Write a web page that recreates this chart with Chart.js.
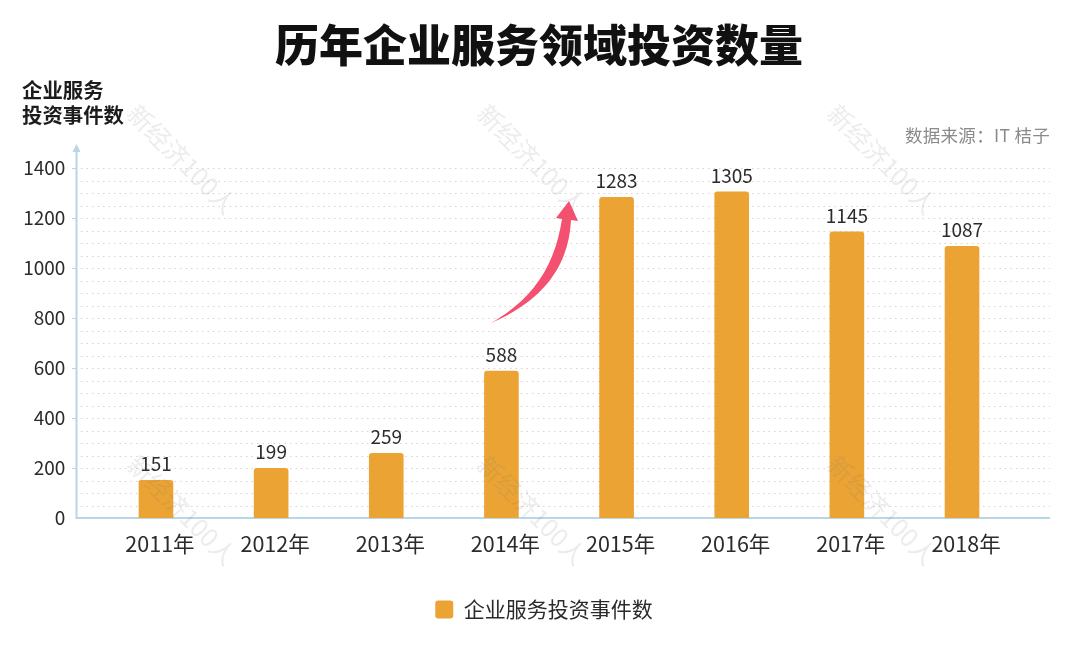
<!DOCTYPE html>
<html lang="zh">
<head>
<meta charset="utf-8">
<title>历年企业服务领域投资数量</title>
<script src="https://cdn.jsdelivr.net/npm/chart.js@4"></script>
<style>
  html, body { margin: 0; padding: 0; background: #fff; }
  #wrap { position: relative; width: 1080px; height: 660px; overflow: hidden; font-family: "Noto Sans CJK SC", "Noto Sans", sans-serif; }
  #wrap canvas { position: absolute; left: 0; top: 0; }
  .label { position: absolute; white-space: nowrap; }
  #title { left: 0; width: 1078px; top: 12px; text-align: center; font-size: 44px; line-height: 62px; font-weight: 900; color: #111; }
  #yTitle { left: 22px; top: 77px; font-size: 20.4px; line-height: 25px; font-weight: 700; color: #1c1c1c; }
  #source { right: 30px; top: 124px; font-size: 17.5px; line-height: 22px; letter-spacing: 0.3px; color: #8a8a8a; }
  .mark { position: absolute; font-size: 25px; line-height: 30px; color: rgba(120, 120, 120, 0.14); transform: translate(-50%, -50%) rotate(45deg); white-space: nowrap; pointer-events: none; }
  #arrow { position: absolute; left: 0; top: 0; pointer-events: none; }
</style>
</head>
<body>
<div id="wrap">
  <canvas id="chart" width="1080" height="660"></canvas>
  <svg id="arrow" width="1080" height="660">
    <path d="M491,323 C522,305 553,278 562,219 L556,218 L569,201 L578,221 L571,220 C569,264 545,300 491,323 Z" fill="#f4506f"/>
  </svg>
  <div class="label" id="title">历年企业服务领域投资数量</div>
  <div class="label" id="yTitle">企业服务<br>投资事件数</div>
  <div class="label" id="source">数据来源：IT 桔子</div>
  <div class="mark" style="left:183px;top:158px">新经济100人</div>
  <div class="mark" style="left:533px;top:158px">新经济100人</div>
  <div class="mark" style="left:883px;top:158px">新经济100人</div>
  <div class="mark" style="left:183px;top:509px">新经济100人</div>
  <div class="mark" style="left:533px;top:509px">新经济100人</div>
  <div class="mark" style="left:883px;top:509px">新经济100人</div>
</div>
<script>
const years = ['2011年', '2012年', '2013年', '2014年', '2015年', '2016年', '2017年', '2018年'];
const deals = [151, 199, 259, 588, 1283, 1305, 1145, 1087];
const seriesName = '企业服务投资事件数';
const yMax = 1400;
const gridStep = 50;
const labelStep = 200;

const fontFamily = '"Noto Sans CJK SC", "Noto Sans", sans-serif';
const axisColor = '#b7d6e6';

/* Dotted grid, long axis lines and the value labels */
const decorations = {
  id: 'decorations',
  beforeDatasetsDraw(chart) {
    const { ctx, scales: { y } } = chart;
    const axisX = 76.5, rightX = 1050, baseY = y.getPixelForValue(0);
    ctx.save();
    ctx.strokeStyle = '#e0cfcf';
    ctx.lineWidth = 1;
    ctx.setLineDash([1.5, 4]);
    y.ticks.forEach((t) => {
      if (t.value === 0) return;
      const py = Math.round(y.getPixelForValue(t.value)) + 0.5;
      ctx.beginPath();
      ctx.moveTo(81, py);
      ctx.lineTo(rightX, py);
      ctx.stroke();
      // short tick beside the labelled values
      if (t.value % labelStep === 0) {
        ctx.save();
        ctx.setLineDash([]);
        ctx.strokeStyle = axisColor;
        ctx.beginPath();
        ctx.moveTo(72, py);
        ctx.lineTo(76, py);
        ctx.stroke();
        ctx.restore();
      }
    });
    ctx.setLineDash([]);
    ctx.strokeStyle = axisColor;
    ctx.lineWidth = 2;
    ctx.beginPath();
    ctx.moveTo(axisX, 150);
    ctx.lineTo(axisX, baseY);
    ctx.lineTo(rightX, baseY);
    ctx.stroke();
    ctx.fillStyle = axisColor;
    ctx.beginPath();
    ctx.moveTo(axisX, 144);
    ctx.lineTo(axisX - 4, 152);
    ctx.lineTo(axisX + 4, 152);
    ctx.closePath();
    ctx.fill();
    ctx.restore();
  },
  afterDatasetsDraw(chart) {
    const { ctx } = chart;
    ctx.save();
    ctx.font = '19px ' + fontFamily;
    ctx.fillStyle = '#2b2b2b';
    ctx.textAlign = 'center';
    ctx.textBaseline = 'middle';
    chart.getDatasetMeta(0).data.forEach((bar, i) => {
      ctx.fillText(deals[i], bar.x, bar.y - 16);
    });
    ctx.restore();
  },
};

new Chart(document.getElementById('chart'), {
  type: 'bar',
  data: {
    labels: years,
    datasets: [{
      label: seriesName,
      data: deals,
      backgroundColor: '#eba434',
      borderRadius: { topLeft: 3, topRight: 3 },
      borderSkipped: 'bottom',
      barThickness: 34,
    }],
  },
  options: {
    responsive: false,
    animation: false,
    layout: { padding: { left: 8, right: 0, top: 168, bottom: 30 } },
    plugins: {
      title: { display: false },
      tooltip: { enabled: false },
      legend: {
        display: true,
        position: 'bottom',
        labels: {
          boxWidth: 18,
          boxHeight: 18,
          padding: 10,
          useBorderRadius: true,
          borderRadius: 3,
          color: '#2b2b2b',
          font: { family: fontFamily, size: 21 },
        },
      },
    },
    scales: {
      x: {
        grid: { display: false },
        border: { display: false },
        ticks: {
          color: '#2b2b2b',
          padding: 5,
          labelOffset: 4,
          maxRotation: 0,
          font: { family: fontFamily, size: 21.5 },
        },
        afterFit(scale) {
          scale.height = 71;
          scale.paddingLeft = 0;
          scale.paddingRight = 0;
        },
      },
      y: {
        min: 0,
        max: yMax,
        grid: { display: false },
        border: { display: false },
        ticks: {
          stepSize: gridStep,
          autoSkip: false,
          padding: 25,
          color: '#2b2b2b',
          font: { family: fontFamily, size: 19 },
          callback: (v) => (v % labelStep === 0 ? v : ''),
        },
        afterFit(scale) {
          scale.width = 90.4;
          scale.paddingTop = 0;
          scale.paddingBottom = 0;
        },
      },
      // empty axis, only keeps the margin right of the bars
      rightGap: {
        position: 'right',
        grid: { display: false },
        border: { display: false },
        ticks: { display: false },
        afterFit(scale) {
          scale.width = 60.4;
          scale.paddingTop = 0;
          scale.paddingBottom = 0;
        },
      },
    },
  },
  plugins: [decorations],
});
</script>
</body>
</html>
